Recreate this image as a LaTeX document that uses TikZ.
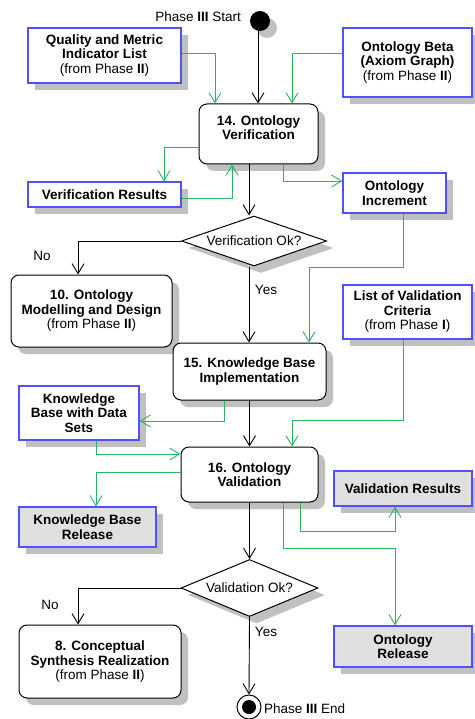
\documentclass[tikz,border=0pt]{standalone}
\usepackage{fontspec}
\setmainfont{Liberation Sans}
\usetikzlibrary{arrows.meta,shapes.geometric,shadows}
\definecolor{objblue}{RGB}{80,80,255}
\definecolor{flowgreen}{RGB}{40,180,100}
\definecolor{relgray}{RGB}{224,224,224}
\definecolor{shadowgray}{RGB}{192,192,192}
\tikzset{
  shadowed/.style={drop shadow={shadow xshift=7pt,shadow yshift=-7pt,fill=shadowgray,opacity=1}},
  every node/.style={font=\fontsize{13.5}{14.5}\selectfont},
  obj/.style={draw=objblue,line width=1.3pt,fill=white,align=center,inner sep=2pt,shadowed,font=\fontsize{13.5}{14.5}\selectfont\bfseries},
  objrel/.style={obj,fill=relgray},
  act/.style={draw=black,line width=1pt,rounded corners=8pt,fill=white,align=center,shadowed,font=\fontsize{13.5}{14.5}\selectfont\bfseries},
  dec/.style={diamond,draw=black,line width=1pt,fill=white,inner sep=0pt,shadowed},
  flow/.style={draw=black,line width=0.9pt,-{Straight Barb[length=10pt,width=12pt]}},
  gflow/.style={flow,draw=flowgreen},
  lbl/.style={inner sep=0pt}
}
\begin{document}
\begin{tikzpicture}[x=1pt,y=-1pt]
\useasboundingbox (0,0) rectangle (474,719);
% start / end
\node[circle,fill=black,minimum size=20pt,inner sep=0pt,shadowed] (start) at (260,21) {};
\node[lbl,anchor=east] (startlbl) at (241,17) {Phase \textbf{III} Start};
% objects
\node[obj,minimum width=153pt,minimum height=55pt] (q) at (104.5,55.5) {Quality and Metric\\Indicator List\\{\mdseries (from Phase \textbf{II})}};
\node[obj,minimum width=129pt,minimum height=69pt] (ob) at (407.5,62.5) {Ontology Beta\\(Axiom Graph)\\{\mdseries (from Phase \textbf{II})}};
\node[act,minimum width=119pt,minimum height=60pt] (v14) at (258.5,134) {14. Ontology\\Verification\\[-1.5pt]\mbox{}};
\node[obj,minimum width=153pt,minimum height=25pt] (vr) at (104.5,194.5) {Verification Results};
\node[obj,minimum width=103pt,minimum height=40pt] (oi) at (394.5,193) {Ontology\\Increment};
\node[dec,aspect=2.9,minimum width=145pt,minimum height=50pt] (d1) at (254,241) {Verification Ok?};
\node[act,minimum width=161pt,minimum height=72pt] (m10) at (91.5,311) {10. Ontology\\Modelling and Design\\{\mdseries (from Phase \textbf{II})}};
\node[obj,minimum width=129pt,minimum height=54pt] (lvc) at (407.5,312) {List of Validation\\Criteria\\{\mdseries (from Phase \textbf{I})}};
\node[act,minimum width=153pt,minimum height=57pt] (k15) at (249.5,371.5) {15. Knowledge Base\\Implementation};
\node[obj,minimum width=120pt,minimum height=54pt] (kb) at (79,413) {Knowledge\\Base with Data\\Sets};
\node[act,minimum width=137pt,minimum height=55pt] (v16) at (249.5,474.5) {16. Ontology\\Validation};
\node[objrel,minimum width=137pt,minimum height=40pt] (kbr) at (87.5,527) {Knowledge Base\\Release};
\node[objrel,minimum width=138pt,minimum height=35pt] (vres) at (403,488.5) {Validation Results};
\node[objrel,minimum width=138pt,minimum height=41pt] (orl) at (403,646.5) {Ontology\\Release};
\node[dec,aspect=2.4,minimum width=137pt,minimum height=57pt] (d2) at (249.5,588) {Validation Ok?};
\node[act,minimum width=162pt,minimum height=73pt] (c8) at (100,661.5) {8. Conceptual\\Synthesis Realization\\{\mdseries (from Phase \textbf{II})}};
\node[circle,draw=black,line width=1pt,fill=white,minimum size=24pt,inner sep=0pt] (endc) at (249,707) {};
\node[circle,fill=black,minimum size=14pt,inner sep=0pt] (endin) at (endc) {};
\node[lbl,anchor=west] (endlbl) at (264,709) {Phase \textbf{III} End};
% labels
\node[lbl] (no1) at (42,256) {No};
\node[lbl] (yes1) at (266,290) {Yes};
\node[lbl] (no2) at (50,605) {No};
\node[lbl] (yes2) at (266,632) {Yes};
% connectors
\draw[flow] ([xshift=-2pt]start.south) -- ([xshift=-2pt]start.south |- v14.north);
\draw[gflow] ([yshift=2.5pt]q.east) -| ([xshift=-43.5pt]v14.north);
\draw[gflow] ([yshift=9.5pt]ob.west) -| ([xshift=33.5pt]v14.north);
\draw[gflow] ([yshift=-13pt]v14.west) -| ([xshift=59.5pt]vr.north);
\draw[gflow] ([yshift=-3.5pt]vr.east) -| ([xshift=-26.5pt]v14.south);
\draw[gflow] ([xshift=24.5pt]v14.south) |- ([yshift=12pt]oi.west);
\draw[flow] ([xshift=-9.5pt]v14.south) -- ([xshift=-9.5pt]v14.south |- d1.north);
\draw[flow] (d1.west) -| ([xshift=-13.5pt]m10.north);
\draw[flow] ([xshift=-5pt]d1.south) -- ([xshift=-5pt]d1.south |- k15.north);
\draw[gflow] ([xshift=8.5pt]oi.south) -- ++(0,54) -| ([xshift=59.5pt]k15.north);
\draw[gflow] ([xshift=-4.5pt]lvc.south) -- ++(0,81) -| ([xshift=42.5pt]v16.north);
\draw[flow] (k15.south) -- (v16.north);
\draw[gflow] ([xshift=-25.5pt]k15.south) |- ([yshift=-8pt]kb.east);
\draw[gflow] ([xshift=17pt]kb.south) |- ([yshift=20.5pt]v16.west);
\draw[gflow] ([yshift=2.5pt]v16.west) -| ([xshift=8.5pt]kbr.north);
\draw[gflow] ([xshift=50.5pt]v16.south) -- ++(0,29) -| ([xshift=-8pt]vres.south);
\draw[gflow] ([xshift=33.5pt]v16.south) -- ++(0,46) -| ([xshift=-8pt]orl.north);
\draw[flow] (v16.south) -- (d2.north);
\draw[flow] (d2.west) -| ([xshift=-22pt]c8.north);
\draw[flow] (d2.south) -- (endc.north);
\end{tikzpicture}
\end{document}
